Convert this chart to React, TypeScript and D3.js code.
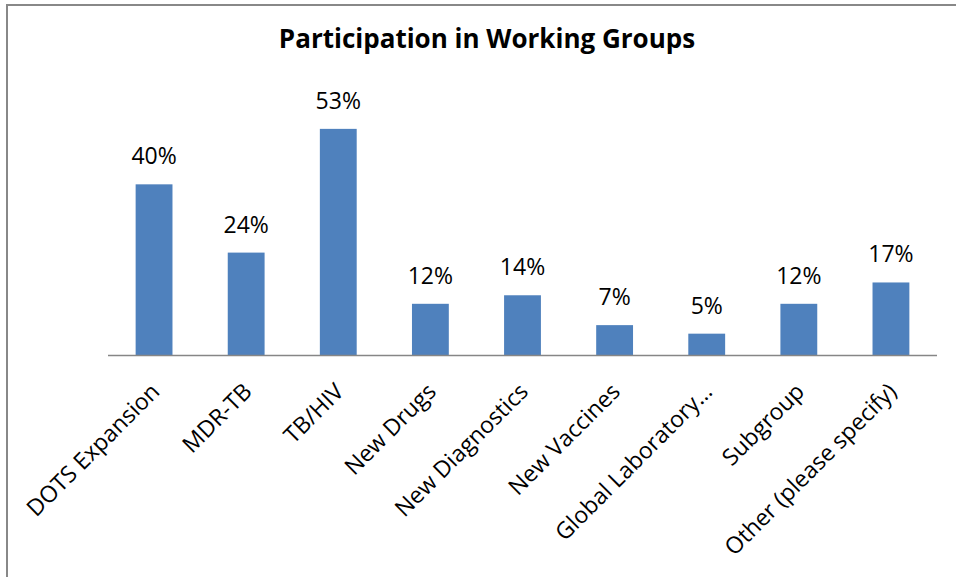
import React from "react";
import * as d3 from "d3";

const categories = [
  "DOTS Expansion",
  "MDR-TB",
  "TB/HIV",
  "New Drugs",
  "New Diagnostics",
  "New Vaccines",
  "Global Laboratory…",
  "Subgroup",
  "Other (please specify)",
];
const values = [40, 24, 53, 12, 14, 7, 5, 12, 17];
const title = "Participation in Working Groups";

const W = 956;
const H = 577;
const FONT = "'Open Sans', sans-serif";

export default function App() {
  const x = d3
    .scaleBand<string>()
    .domain(categories)
    .range([108, 937])
    .paddingInner(0.6)
    .paddingOuter(0.3);
  const y = d3.scaleLinear().domain([0, 60]).range([355, 355 - 256]);

  return (
    <svg
      width={W}
      height={H}
      style={{ position: "absolute", left: 0, top: 0, background: "#fff" }}
    >
      <rect x={7} y={5} width={960} height={600} fill="#fff" stroke="#888" strokeWidth={2} />
      <text
        x={487}
        y={48}
        textAnchor="middle"
        fontFamily={FONT}
        fontWeight="bold"
        fontSize={26}
        fill="#000"
      >
        {title}
      </text>
      {categories.map((c, i) => (
        <rect
          key={c}
          x={x(c)}
          y={y(values[i])}
          width={x.bandwidth()}
          height={y(0) - y(values[i])}
          fill="#4F81BD"
        />
      ))}
      <line x1={108} x2={937} y1={y(0) + 0.5} y2={y(0) + 0.5} stroke="#868686" strokeWidth={1.5} />
      {categories.map((c, i) => (
        <text
          key={"v" + c}
          x={(x(c) as number) + x.bandwidth() / 2}
          y={y(values[i]) - 20}
          textAnchor="middle"
          fontFamily={FONT}
          fontSize={23}
          fill="#000"
        >
          {values[i] + "%"}
        </text>
      ))}
      {categories.map((c) => {
        const cx = (x(c) as number) + x.bandwidth() / 2;
        return (
          <text
            key={"l" + c}
            transform={`translate(${cx + 7},${y(0) + 38}) rotate(-45)`}
            textAnchor="end"
            fontFamily={FONT}
            fontSize={23}
            fill="#000"
          >
            {c}
          </text>
        );
      })}
    </svg>
  );
}
